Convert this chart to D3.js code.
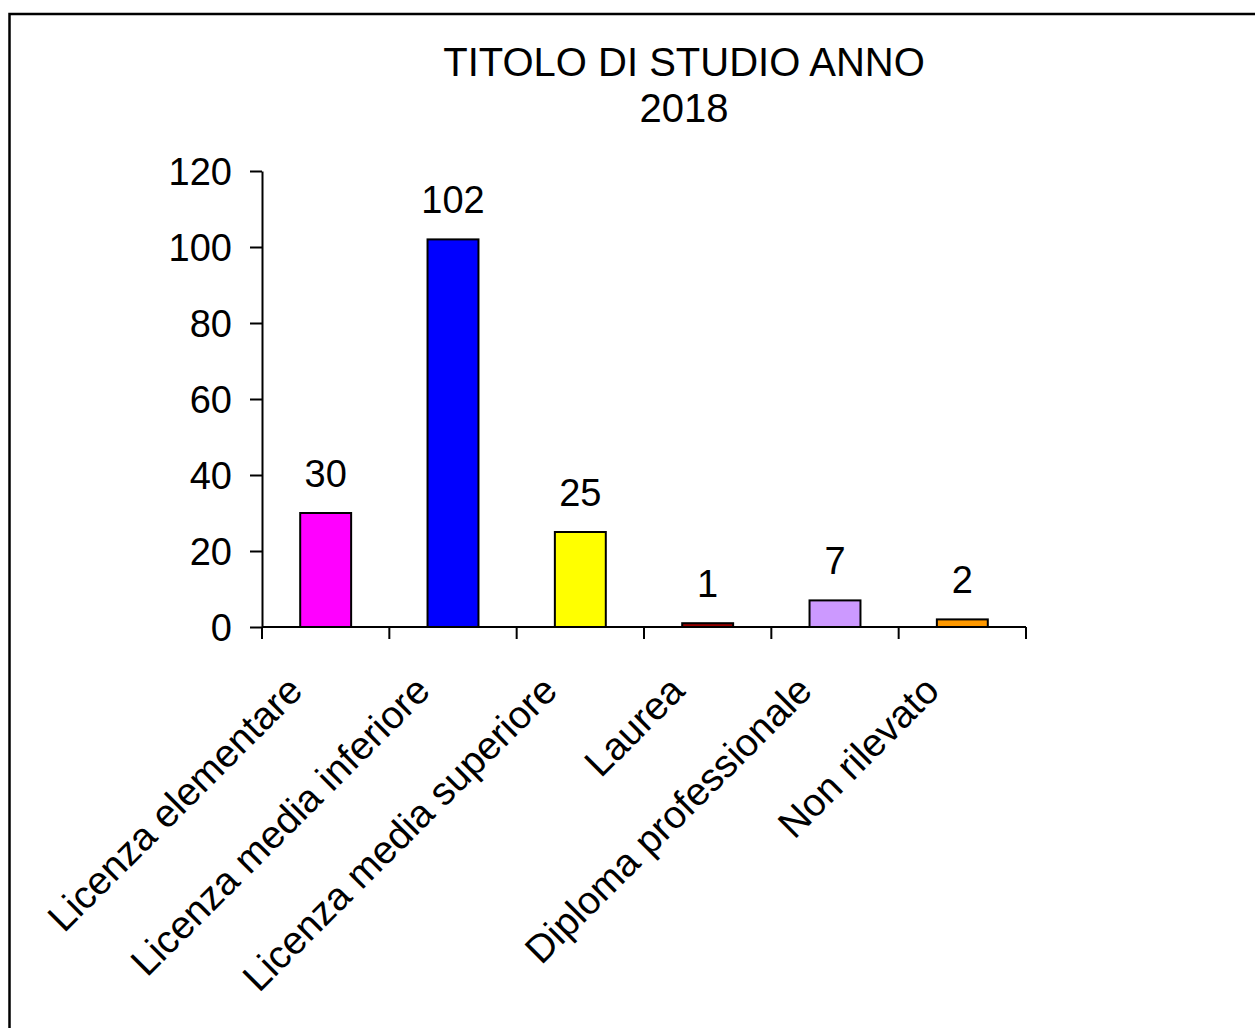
<!DOCTYPE html>
<html>
<head>
<meta charset="utf-8">
<script src="https://cdn.jsdelivr.net/npm/d3@7"></script>
<style>
  body { margin: 0; background: #fff; }
  text { font-family: "Liberation Sans", Arial, sans-serif; fill: #000; }
</style>
</head>
<body>
<script>
// data
var categories = ["Licenza elementare", "Licenza media inferiore", "Licenza media superiore",
    "Laurea", "Diploma professionale", "Non rilevato"];
var values = [30, 102, 25, 1, 7, 2];
var colors = ["#FF00FF", "#0000FF", "#FFFF00", "#990000", "#CC99FF", "#FF9900"];
var yTicks = [0, 20, 40, 60, 80, 100, 120];
var titleLines = ["TITOLO DI STUDIO ANNO", "2018"];

var W = 1255, H = 1028;
var plot = {left: 262, right: 1026, top: 171, bottom: 627};

var svg = d3.select("body").append("svg")
    .attr("width", W)
    .attr("height", H);

// outer frame (runs off the right and bottom edges)
svg.append("rect")
    .attr("x", 9.5)
    .attr("y", 14)
    .attr("width", 1400)
    .attr("height", 1200)
    .attr("fill", "none")
    .attr("stroke", "#000")
    .attr("stroke-width", 2.5);

// title
svg.append("g").selectAll("text")
    .data(titleLines)
    .enter().append("text")
    .attr("x", 684)
    .attr("y", function(d, i) { return 76 + i * 46; })
    .attr("text-anchor", "middle")
    .style("font-size", "40px")
    .text(function(d) { return d; });

var x = d3.scaleBand()
    .domain(categories)
    .range([plot.left, plot.right])
    .paddingInner(0.6)
    .paddingOuter(0.3);

var xb = d3.scaleBand()
    .domain(categories)
    .range([plot.left, plot.right]);

var y = d3.scaleLinear()
    .domain([0, 120])
    .range([plot.bottom, plot.top]);

// bars
svg.selectAll(".bar")
    .data(values)
    .enter().append("rect")
    .attr("class", "bar")
    .attr("x", function(d, i) { return x(categories[i]); })
    .attr("width", x.bandwidth())
    .attr("y", function(d) { return y(d); })
    .attr("height", function(d) { return y(0) - y(d); })
    .attr("fill", function(d, i) { return colors[i]; })
    .attr("stroke", "#000")
    .attr("stroke-width", 2);

// value labels
svg.selectAll(".val")
    .data(values)
    .enter().append("text")
    .attr("class", "val")
    .attr("x", function(d, i) { return x(categories[i]) + x.bandwidth() / 2; })
    .attr("y", function(d) { return y(d) - 26; })
    .attr("text-anchor", "middle")
    .style("font-size", "38px")
    .text(function(d) { return d; });

// y axis
var yAxis = svg.append("g")
    .attr("transform", "translate(" + plot.left + ",0)")
    .call(d3.axisLeft(y).tickValues(yTicks).tickSize(12).tickPadding(18).tickSizeOuter(0));
yAxis.select(".domain").attr("stroke-width", 2);
yAxis.selectAll(".tick line").attr("stroke-width", 2);
yAxis.selectAll(".tick text")
    .attr("font-family", null)
    .style("font-size", "38px")
    .attr("dy", "0.35em");

// x axis: ticks at band boundaries
var xAxis = svg.append("g")
    .attr("transform", "translate(0," + plot.bottom + ")");
xAxis.append("line")
    .attr("x1", plot.left)
    .attr("x2", plot.right)
    .attr("stroke", "#000")
    .attr("stroke-width", 2);
var bounds = categories.map(function(c) { return xb(c); }).concat([plot.right]);
xAxis.selectAll(".xt")
    .data(bounds)
    .enter().append("line")
    .attr("class", "xt")
    .attr("x1", function(d) { return d; })
    .attr("x2", function(d) { return d; })
    .attr("y1", 0)
    .attr("y2", 12)
    .attr("stroke", "#000")
    .attr("stroke-width", 2);

// rotated category labels
xAxis.selectAll(".xl")
    .data(categories)
    .enter().append("text")
    .attr("class", "xl")
    .attr("text-anchor", "end")
    .style("font-size", "39px")
    .attr("transform", function(d) {
        return "translate(" + (xb(d) + xb.bandwidth() / 2 - 21) + ",66) rotate(-45)";
    })
    .text(function(d) { return d; });
</script>
</body>
</html>
